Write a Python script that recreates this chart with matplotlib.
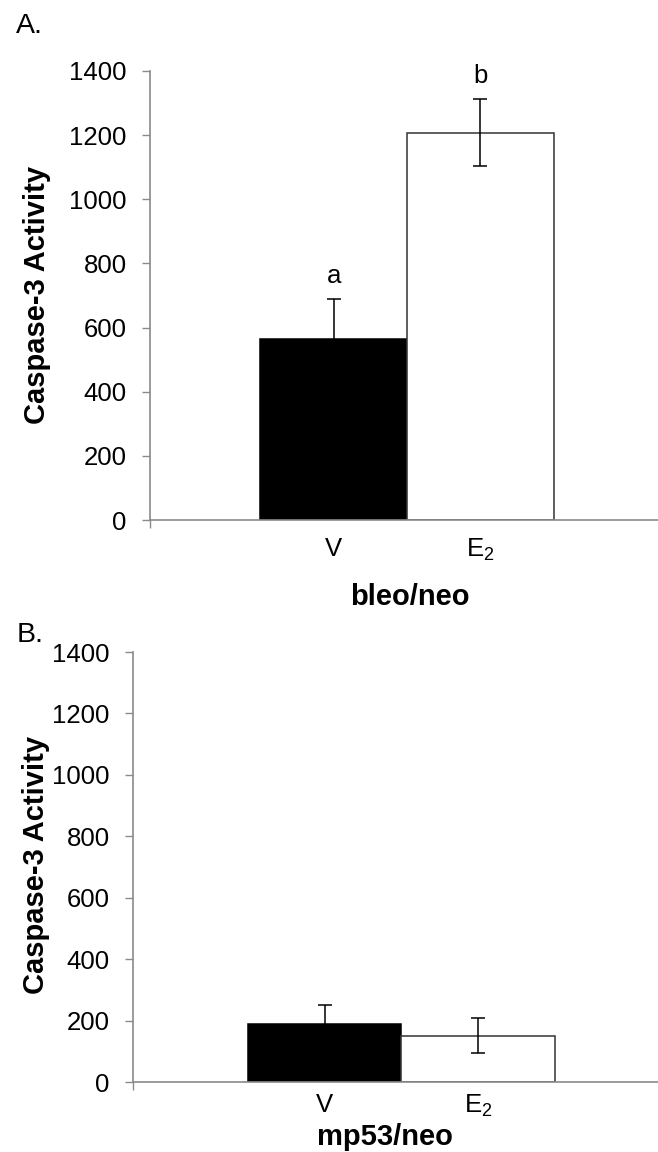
import matplotlib
matplotlib.use("Agg")
from matplotlib import pyplot as plt

# caspase-3 activity, mean and standard error for vehicle (V) and estradiol (E2)
groups = ["V", "E$_2$"]
bleo_mean = [564, 1208]
bleo_err = [125, 105]
bleo_letters = ["a", "b"]
mp53_mean = [189, 150]
mp53_err = [62, 57]

plt.rcParams["font.family"] = ["Liberation Sans", "DejaVu Sans"]
plt.rcParams["mathtext.fontset"] = "custom"
plt.rcParams["mathtext.rm"] = "Liberation Sans"
plt.rcParams["mathtext.default"] = "rm"

W, H = 658, 1152
fig = plt.figure(figsize=(W / 100, H / 100), dpi=100)

def box(left, top, right, bottom):
    # pixel box -> figure fraction rect
    return [left / W, 1 - bottom / H, (right - left) / W, (bottom - top) / H]

axis_grey = "#8a8a8a"
fills = ["black", "white"]

def panel(rect, means, errs, xtitle, xtitle_pos, tick_pad):
    ax = fig.add_axes(rect)
    x = list(range(len(groups)))
    ax.bar(x, means, width=1.0, color=fills, edgecolor=["black", "#333333"],
           linewidth=1.1, zorder=2)
    ax.errorbar(x, means, yerr=errs, fmt="none", ecolor="black",
                elinewidth=1.1, capsize=4.7, capthick=1.1, zorder=3)
    ax.set_xlim(-1.25, 2.25)
    ax.set_ylim(0, 1400)
    ax.set_yticks(range(0, 1401, 200))
    ax.set_xticks(x)
    ax.set_xticklabels(groups)
    ax.set_xticks([-1.25, 2.25], minor=True)
    for s in ["top", "right"]:
        ax.spines[s].set_visible(False)
    for s in ["left", "bottom"]:
        ax.spines[s].set_color(axis_grey)
        ax.spines[s].set_linewidth(1.2)
    ax.tick_params(axis="y", direction="out", length=5.8, width=1.0,
                   color=axis_grey, labelsize=18.5, pad=11)
    ax.tick_params(axis="x", which="major", length=0, labelsize=18.5,
                   pad=tick_pad)
    ax.tick_params(axis="x", which="minor", direction="out", length=5.8,
                   width=1.0, color=axis_grey)
    fig.text(xtitle_pos[0] / W, 1 - xtitle_pos[1] / H, xtitle,
             fontsize=21, fontweight="bold", ha="center", va="center")
    return ax

# A. bleo/neo
ax1 = panel(box(150, 71, 664, 520), bleo_mean, bleo_err, "bleo/neo", (410, 597), 12)
for i, letter in enumerate(bleo_letters):
    ax1.text(i, bleo_mean[i] + bleo_err[i] + 72, letter, fontsize=18.5,
             ha="center", va="center")
fig.text(37 / W, 1 - 295 / H, "Caspase-3 Activity", fontsize=21,
         fontweight="bold", rotation=90, ha="center", va="center")
fig.text(16 / W, 1 - 26 / H, "A.", fontsize=20.5, ha="left", va="center")

# B. mp53/neo
ax2 = panel(box(133, 652, 670, 1082), mp53_mean, mp53_err, "mp53/neo", (385, 1137), 8)
fig.text(36 / W, 1 - 865 / H, "Caspase-3 Activity", fontsize=21,
         fontweight="bold", rotation=90, ha="center", va="center")
fig.text(17 / W, 1 - 635 / H, "B.", fontsize=20.5, ha="left", va="center")

fig.savefig("out.png", dpi=100)
